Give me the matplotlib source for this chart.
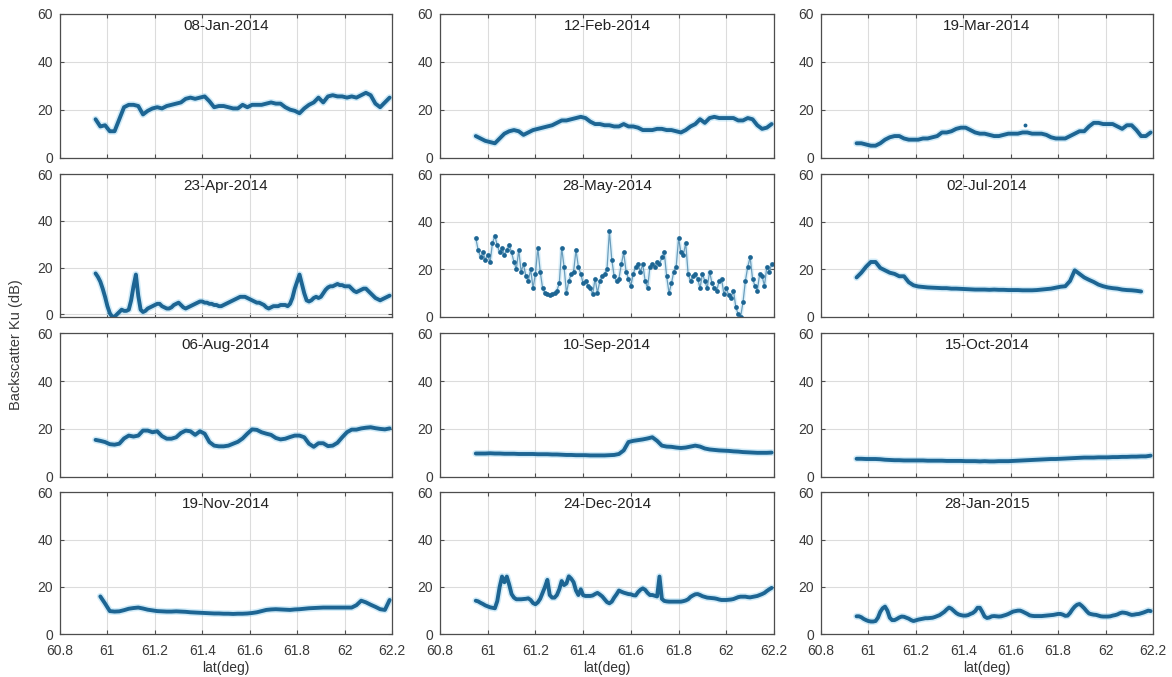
import numpy as np
import matplotlib
matplotlib.use("Agg")
import matplotlib.pyplot as plt

plt.rcParams["font.family"] = ["Liberation Sans", "DejaVu Sans"]

# Latitude sampling (deg): 0.02 deg tracks and 0.01 deg tracks
LAT0 = 60.95

# ---- Backscatter Ku (dB) along track, 0.02 deg spacing ----
jan08_2014 = [16, 13, 13.5, 11, 11, 16, 21, 22, 22, 21.5,
              18, 19.5, 20.5, 21, 20.5, 21.5, 22, 22.5, 23, 24.5,
              25, 24.5, 25, 25.5, 23.5, 21, 21.5, 21.5, 21, 20.5,
              20.5, 22, 21, 22, 22, 22, 22.5, 23, 22.5, 22.5,
              21, 20, 19.5, 18.5, 20.5, 22, 23, 25, 23, 25.5,
              26, 25.5, 25.5, 25, 25.5, 25, 26, 27, 26, 22.5,
              21, 23, 25]
feb12_2014 = [9, 8, 7, 6.5, 6, 8, 10, 11, 11.5, 11,
              9.5, 10.5, 11.5, 12, 12.5, 13, 13.5, 14.5, 15.5, 15.5,
              16, 16.5, 17, 16.5, 15, 14, 14, 13.5, 13.5, 13,
              13, 14, 13, 13, 12.5, 11.5, 11.5, 11.5, 12, 12,
              11.5, 11.5, 11, 10.5, 11.5, 13, 14, 16, 14.5, 16.5,
              17, 16.5, 16.5, 16.5, 16.5, 15.5, 15.5, 16.5, 16, 13.5,
              12, 12.5, 14]
mar19_2014 = [6, 6, 5.5, 5, 5, 6, 7.5, 8.5, 9, 9,
              8, 7.5, 7.5, 7.5, 8, 8, 8.5, 9, 10.5, 10.5,
              11, 12, 12.5, 12.5, 11.5, 10.5, 10, 10, 9.5, 9,
              9, 9.5, 10, 10, 10, 10.5, 10.5, 10, 10, 10,
              9.5, 8.5, 8, 8, 8, 9, 10, 11, 11, 13,
              14.5, 14.5, 14, 14, 14, 13, 12, 13.5, 13.5, 11.5,
              9, 9, 10.5]
mar19_extra_lat = [61.66]
mar19_extra_val = [13.5]
jul02_2014 = [16.5, 18.5, 21, 23, 23, 20.5, 19.5, 18.5, 18, 17,
              17, 14.5, 13.2, 12.7, 12.5, 12.3, 12.2, 12.1, 12, 12,
              11.8, 11.8, 11.7, 11.6, 11.5, 11.4, 11.4, 11.4, 11.3, 11.4,
              11.3, 11.3, 11.2, 11.2, 11.2, 11.1, 11.1, 11.1, 11.2, 11.4,
              11.6, 11.8, 12.2, 12.6, 12.8, 15, 19.5, 18, 16.5, 15.5,
              14.6, 13.5, 12.8, 12.3, 12, 11.8, 11.4, 11.2, 11.1, 10.9,
              10.6, np.nan, np.nan]
aug06_2014 = [15.4, 15, 14.5, 13.6, 13.4, 13.8, 16, 17.2, 16.8, 17.2,
              19.3, 19.3, 18.6, 19, 17, 15.9, 15.9, 16.5, 18.3, 19.3,
              19, 17.5, 19, 18, 14.5, 13, 12.7, 12.7, 13, 13.8,
              14.6, 16, 18, 19.8, 19.6, 18.6, 18, 17.5, 16.2, 15.6,
              15.9, 16.6, 17.2, 17.2, 16.5, 13.8, 12.5, 14, 14, 12.8,
              13, 14.2, 16.5, 18.6, 19.7, 19.7, 20.2, 20.5, 20.7, 20.3,
              20, 19.8, 20.2]
sep10_2014 = [9.7, 9.7, 9.7, 9.8, 9.7, 9.7, 9.6, 9.6, 9.6, 9.5,
              9.5, 9.5, 9.5, 9.4, 9.4, 9.4, 9.3, 9.3, 9.2, 9.1,
              9.1, 9.0, 9.0, 9.0, 8.9, 8.9, 8.9, 8.9, 9.0, 9.1,
              9.5, 11, 14.5, 15, 15.3, 15.6, 16, 16.5, 15, 13,
              12.6, 12.5, 12.2, 12, 12.2, 12.6, 13, 12.6, 11.8, 11.4,
              11.2, 11, 10.9, 10.8, 10.6, 10.5, 10.3, 10.2, 10.1, 10,
              10, 10, 10.1]
oct15_2014 = [7.5, 7.5, 7.4, 7.4, 7.4, 7.3, 7.1, 7.0, 6.9, 6.9,
              6.8, 6.8, 6.8, 6.8, 6.8, 6.7, 6.7, 6.7, 6.7, 6.6,
              6.6, 6.6, 6.6, 6.5, 6.5, 6.5, 6.4, 6.5, 6.4, 6.4,
              6.5, 6.5, 6.5, 6.6, 6.7, 6.8, 6.9, 7.0, 7.1, 7.2,
              7.3, 7.4, 7.4, 7.5, 7.6, 7.7, 7.8, 7.9, 8.0, 8.0,
              8.0, 8.1, 8.1, 8.1, 8.2, 8.2, 8.3, 8.3, 8.4, 8.4,
              8.5, 8.5, 8.8]
nov19_2014 = [np.nan, 16, 13, 9.8, 9.6, 9.7, 10.2, 10.8, 11.1, 11.3,
              10.9, 10.4, 10.1, 9.8, 9.7, 9.6, 9.6, 9.7, 9.6, 9.5,
              9.3, 9.2, 9.1, 9.0, 8.9, 8.8, 8.8, 8.7, 8.7, 8.6,
              8.7, 8.7, 8.8, 9.0, 9.3, 9.8, 10.3, 10.5, 10.6, 10.5,
              10.4, 10.3, 10.5, 10.6, 10.8, 11, 11.1, 11.2, 11.3, 11.3,
              11.3, 11.3, 11.3, 11.3, 11.3, 12.3, 14.2, 13.5, 12.5, 11.6,
              10.6, 10.3, 14.5]

# ---- Backscatter Ku (dB) along track, 0.01 deg spacing ----
apr23_2014 = [17.5, 16, 14, 11, 7.5, 3.5, 0.5, -1, -1, 0,
              1, 2, 1.5, 1.5, 2, 6, 12, 17, 8, 2,
              1, 1.5, 2.5, 3, 3.5, 4, 4.5, 4.5, 3.5, 3,
              2.5, 2.5, 3, 4, 4.5, 5, 4, 3, 2.5, 3,
              3.5, 4, 4.5, 5, 5.5, 5.5, 5, 5, 4.5, 4.5,
              4, 4, 3.5, 3.5, 4, 4.5, 5, 5.5, 6, 6.5,
              7, 7.5, 7.5, 7.5, 7, 6.5, 6, 5.5, 5, 5,
              4.5, 4, 3, 2.5, 3, 3.5, 3.5, 3.5, 4, 4,
              4, 3.5, 4.5, 7, 11, 14, 17, 13, 9, 6,
              5.5, 6, 7, 7.5, 7, 7.5, 9, 10.5, 11.5, 12,
              12, 12.5, 13, 12.5, 12.5, 12, 12, 12, 11, 10,
              9.5, 10, 10.5, 11, 11, 10, 9, 8, 7, 6.5,
              6, 6.5, 7, 7.5, 8]
may28_2014 = [33, 28, 25, 27, 24, 26, 23, 31, 34, 30,
              27, 29, 26, 28, 30, 27, 23, 20, 28, 19,
              22, 17, 15, 20, 12, 18, 29, 19, 12, 10,
              9.5, 9, 9.5, 10, 11, 14, 29, 21, 10, 15,
              18, 19, 28, 21, 18, 14, 15, 13, 12, 9.5,
              16, 10, 15, 17, 18, 20, 36, 24, 17, 15,
              16, 22, 27, 19, 16, 13, 18, 21, 22, 19,
              22, 15, 12, 21, 22, 21, 23, 22, 25, 27,
              17, 10, 14, 19, 21, 33, 27, 26, 31, 18,
              15, 17, 18, 16, 12, 18, 15, 12, 19, 14,
              12, 11, 15, 16, 9.5, 12, 9, 8, 11, 4,
              1, 0, 6, 15, 21, 25, 16, 13, 11, 18,
              17, 13, 21, 19, 22]
dec24_2014 = [14.2, 13.9, 13.3, 12.8, 12.2, 11.8, 11.4, 11.2, 11, 14,
              20, 24.4, 22, 24.4, 21, 17, 15.5, 14.8, 14.8, 14.8,
              14.9, 15, 15.2, 14.5, 13.2, 12.7, 13.5, 15, 17.5, 20,
              23, 16.6, 15.5, 15.5, 16.6, 19, 22.5, 20.8, 21.5, 24.5,
              23.5, 22, 18.5, 16.6, 19, 16.5, 16.2, 16.2, 16.2, 16.4,
              17, 17.5, 16.8, 16, 14.8, 13.6, 13.1, 13.8, 15.5, 16.9,
              18.5, 18, 17.6, 17.3, 17, 16.9, 16.5, 16.4, 17.8, 18.8,
              19.4, 18.8, 17.5, 16.6, 16.6, 16.3, 16, 24.4, 15, 14.1,
              13.9, 13.8, 13.8, 13.8, 13.8, 13.8, 13.8, 14, 14.3, 14.8,
              15.8, 16.4, 16.9, 17, 16.6, 16.1, 15.8, 15.5, 15.4, 15.3,
              15.2, 15, 14.7, 14.5, 14.5, 14.5, 14.6, 14.7, 14.9, 15.3,
              15.7, 15.9, 15.9, 15.9, 15.7, 15.6, 15.8, 16, 16.2, 16.6,
              17, 17.5, 18.3, 19, 19.6]
jan28_2015 = [7.6, 7.6, 7.2, 6.5, 6, 5.6, 5.4, 5.4, 5.6, 7,
              9.5, 11, 11.7, 10, 7, 6, 6, 6.5, 7.1, 7.5,
              7.4, 7, 6.6, 6, 5.6, 5.9, 6.2, 6.4, 6.6, 6.8,
              6.8, 6.9, 7, 7.3, 7.7, 8.1, 8.8, 9.5, 10.5, 11.3,
              10.8, 9.9, 9, 8.4, 8.1, 7.9, 7.9, 8.1, 8.6, 9,
              9.8, 11.2, 11.2, 9.5, 7.5, 6.9, 7.1, 7.6, 7.7, 7.6,
              7.5, 7.6, 7.9, 8.2, 8.6, 9.1, 9.6, 9.8, 10, 10,
              9.6, 9.1, 8.6, 8, 7.8, 7.7, 7.7, 7.7, 7.7, 7.8,
              7.9, 8, 8.1, 8.2, 8.4, 8.6, 8.6, 8.3, 7.8, 7.9,
              9, 10.5, 11.7, 12.5, 12.8, 12, 11, 9.8, 8.8, 8.5,
              8.3, 8.2, 7.9, 7.6, 7.5, 7.5, 7.5, 7.6, 7.9, 8.1,
              8.4, 8.9, 9.2, 9.1, 8.9, 8.5, 8.2, 8.3, 8.5, 8.6,
              8.9, 9.2, 9.6, 10, 9.8]

titles = ["08-Jan-2014", "12-Feb-2014", "19-Mar-2014",
          "23-Apr-2014", "28-May-2014", "02-Jul-2014",
          "06-Aug-2014", "10-Sep-2014", "15-Oct-2014",
          "19-Nov-2014", "24-Dec-2014", "28-Jan-2015"]
series = [jan08_2014, feb12_2014, mar19_2014,
          apr23_2014, may28_2014, jul02_2014,
          aug06_2014, sep10_2014, oct15_2014,
          nov19_2014, dec24_2014, jan28_2015]
steps = [0.02, 0.02, 0.02,
         0.01, 0.01, 0.02,
         0.02, 0.02, 0.02,
         0.02, 0.01, 0.01]

xticks = [60.8, 61.0, 61.2, 61.4, 61.6, 61.8, 62.0, 62.2]
xticklabels = ["60.8", "61", "61.2", "61.4", "61.6", "61.8", "62", "62.2"]
yticks = [0, 20, 40, 60]

W, H = 1172, 677
fig = plt.figure(figsize=(W / 100, H / 100), dpi=100)

col_px = [(60, 392), (440, 774), (821, 1153)]
row_px = [(13.5, 157.7), (174, 316.7), (333.3, 476.7), (492.3, 634.3)]

BLUE = "#1d6593"
HALO = "#7cc8ec"

for k, (title, vals, step) in enumerate(zip(titles, series, steps)):
    r, c = divmod(k, 3)
    x0, x1 = col_px[c]
    y0, y1 = row_px[r]
    ax = fig.add_axes([x0 / W, 1 - y1 / H, (x1 - x0) / W, (y1 - y0) / H])
    vals = np.asarray(vals, dtype=float)
    lat = LAT0 + step * np.arange(len(vals))

    if title == "28-May-2014":
        # noisy track: dense dots joined by a faint trace
        ax.plot(lat, vals, "-", lw=3.0, color=HALO, alpha=0.25)
        ax.plot(lat, vals, "-", lw=0.9, color=BLUE, alpha=0.6)
        ax.plot(lat, vals, "o", ms=3.4, color=BLUE, mec="none")
    else:
        ax.plot(lat, vals, "-", lw=5.0, color=HALO, alpha=0.35,
                solid_capstyle="round", solid_joinstyle="round")
        ax.plot(lat, vals, "-", lw=2.8, color=BLUE,
                solid_capstyle="round", solid_joinstyle="round")
    if title == "19-Mar-2014":
        ax.plot(mar19_extra_lat, mar19_extra_val, "o", ms=2.8,
                color=BLUE, mec="none")

    ax.set_xlim(60.8, 62.2)
    ax.set_ylim(-1 if title == "23-Apr-2014" else 0, 60)
    ax.set_xticks(xticks)
    ax.set_yticks(yticks)
    ax.set_yticklabels([str(v) for v in yticks])
    if r == 3:
        ax.set_xticklabels(xticklabels)
        ax.set_xlabel("lat(deg)", fontsize=10, color="#333", labelpad=2)
    else:
        ax.set_xticklabels([])

    ax.grid(True, color="#dcdcdc", lw=0.8)
    ax.set_axisbelow(True)
    for sp in ax.spines.values():
        sp.set_color("#4d4d4d")
        sp.set_linewidth(0.9)
    ax.tick_params(direction="in", top=True, right=True, length=3,
                   width=0.8, color="#4d4d4d", labelcolor="#3a3a3a",
                   labelsize=10)
    ax.tick_params(axis="y", pad=5)
    ax.tick_params(axis="x", pad=7)
    ax.text(0.5, 0.915, title, transform=ax.transAxes, ha="center",
            va="center", fontsize=11, color="#222222")

fig.text(16 / W, 1 - 345 / H, "Backscatter Ku (dB)", rotation=90,
         ha="center", va="center", fontsize=10.5, color="#3a3a3a")

fig.savefig("out.png", dpi=100, facecolor="white")
